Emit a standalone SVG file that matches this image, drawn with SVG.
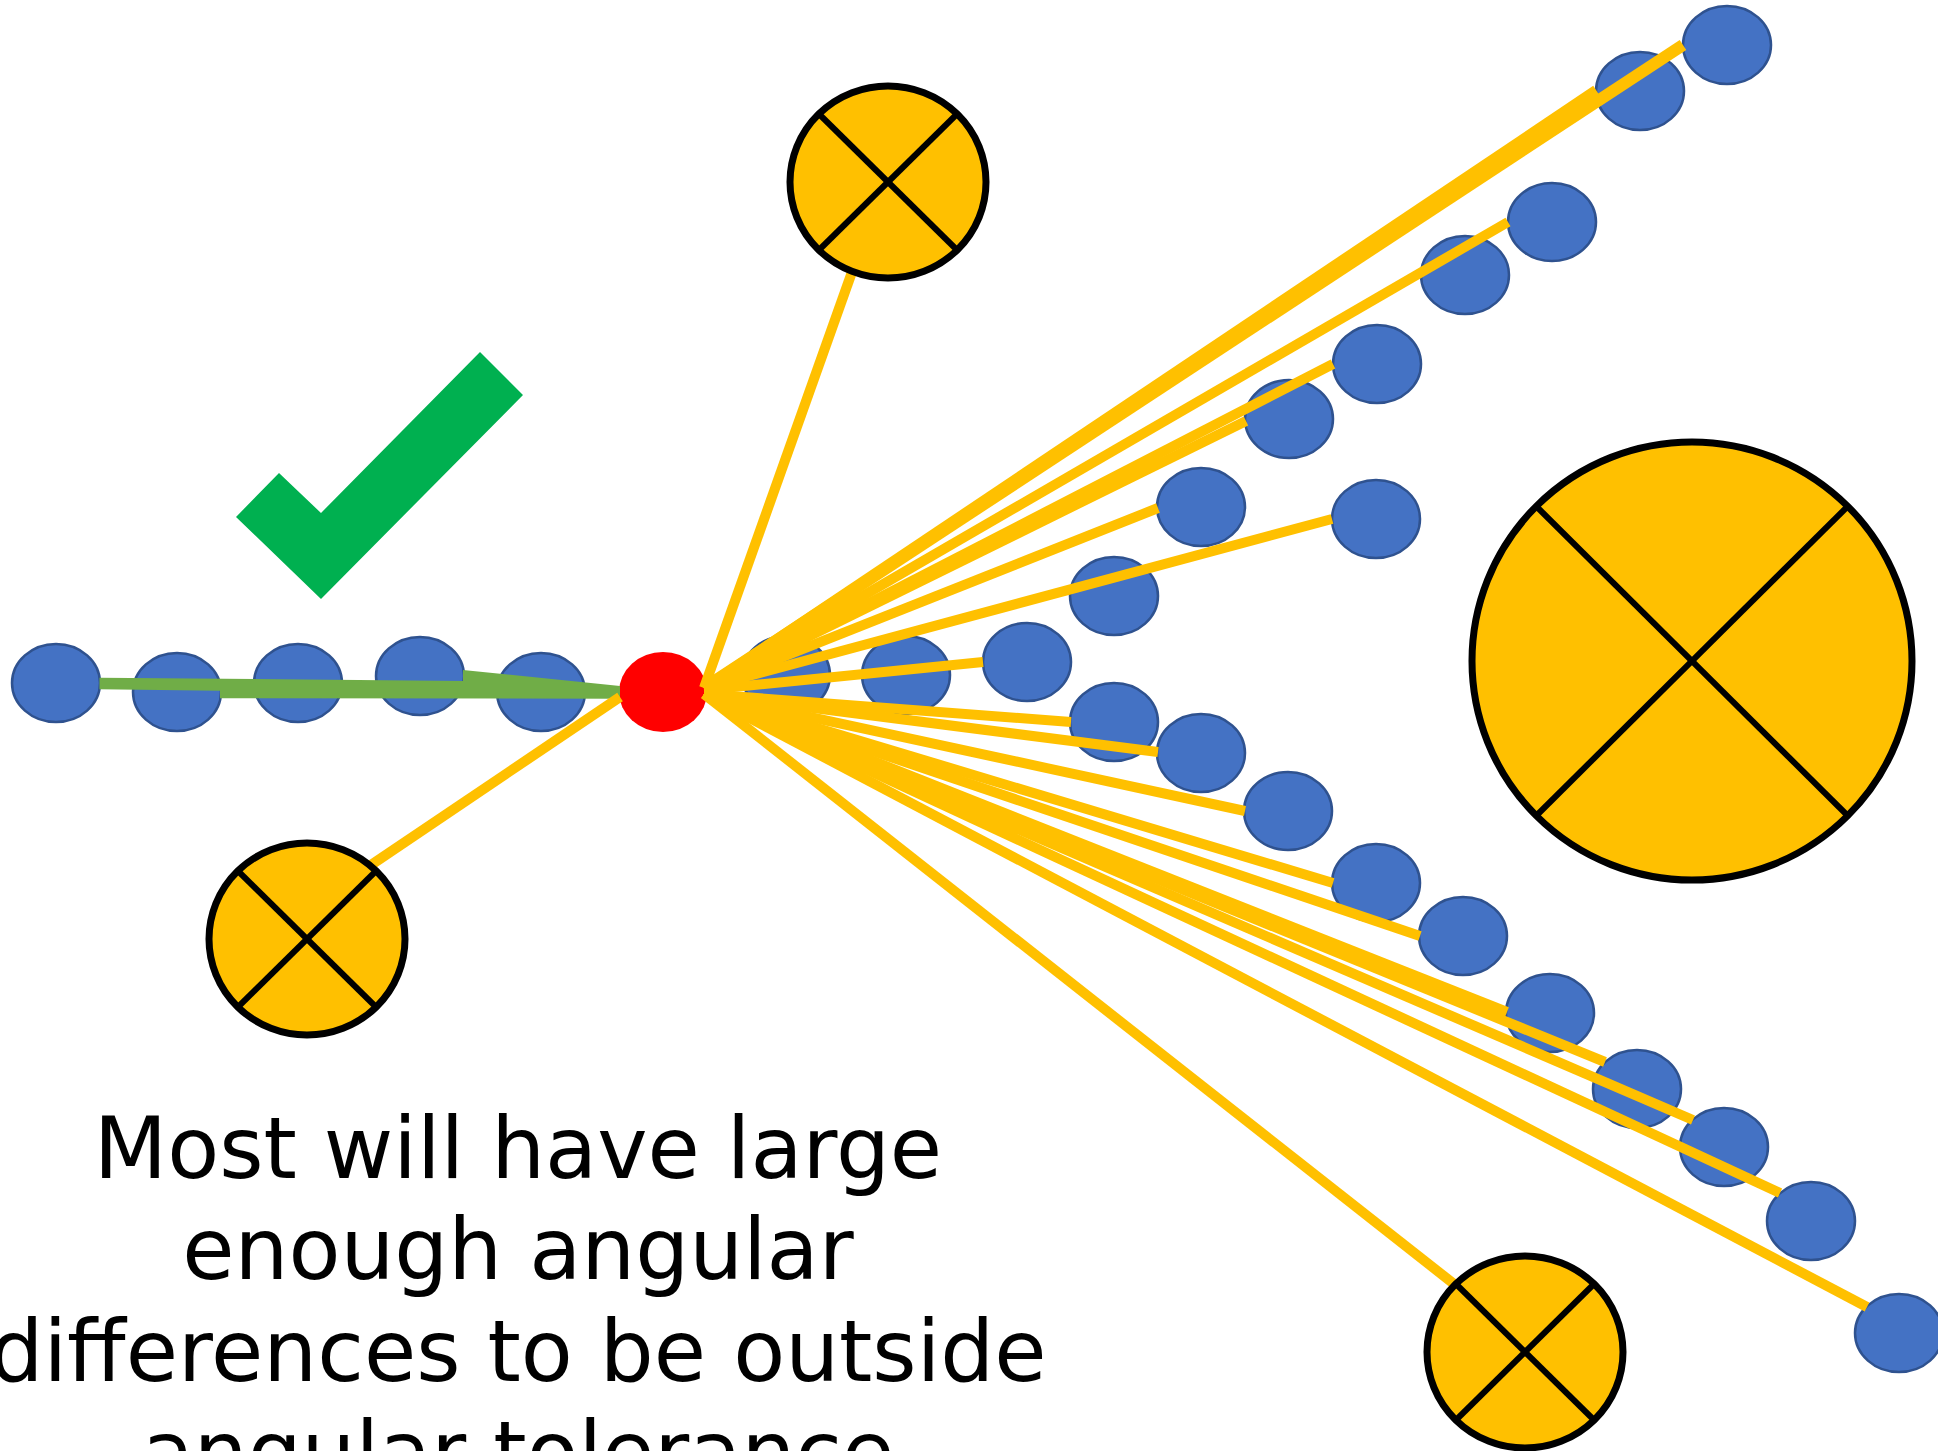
<svg xmlns="http://www.w3.org/2000/svg" width="1938" height="1451" viewBox="0 0 1938 1451">
<style>
.b{fill:#4472C4;stroke:#2F528F;stroke-width:2.5}
.y{stroke:#FFC000;stroke-width:10;fill:none}
.xc{fill:#FFC000;stroke:#000;stroke-width:7}
.xl{stroke:#000;stroke-width:6}
.t{font-family:"DejaVu Sans",Verdana,sans-serif;font-size:85px;fill:#000;text-anchor:middle}
</style>
<rect width="1938" height="1451" fill="#fff"/>
<g id="points">
<ellipse class="b" cx="56" cy="683" rx="44" ry="39"/>
<ellipse class="b" cx="177" cy="692" rx="44" ry="39"/>
<ellipse class="b" cx="298" cy="683" rx="44" ry="39"/>
<ellipse class="b" cx="420" cy="676" rx="44" ry="39"/>
<ellipse class="b" cx="541" cy="692" rx="44" ry="39"/>
<ellipse class="b" cx="786" cy="675" rx="44" ry="39"/>
<ellipse class="b" cx="906" cy="675" rx="44" ry="39"/>
<ellipse class="b" cx="1027" cy="662" rx="44" ry="39"/>
<ellipse class="b" cx="1114" cy="596" rx="44" ry="39"/>
<ellipse class="b" cx="1201" cy="507" rx="44" ry="39"/>
<ellipse class="b" cx="1289" cy="419" rx="44" ry="39"/>
<ellipse class="b" cx="1377" cy="364" rx="44" ry="39"/>
<ellipse class="b" cx="1465" cy="275" rx="44" ry="39"/>
<ellipse class="b" cx="1552" cy="222" rx="44" ry="39"/>
<ellipse class="b" cx="1640" cy="91" rx="44" ry="39"/>
<ellipse class="b" cx="1727" cy="45" rx="44" ry="39"/>
<ellipse class="b" cx="1376" cy="519" rx="44" ry="39"/>
<ellipse class="b" cx="1114" cy="722" rx="44" ry="39"/>
<ellipse class="b" cx="1201" cy="753" rx="44" ry="39"/>
<ellipse class="b" cx="1288" cy="811" rx="44" ry="39"/>
<ellipse class="b" cx="1376" cy="883" rx="44" ry="39"/>
<ellipse class="b" cx="1463" cy="936" rx="44" ry="39"/>
<ellipse class="b" cx="1550" cy="1013" rx="44" ry="39"/>
<ellipse class="b" cx="1637" cy="1089" rx="44" ry="39"/>
<ellipse class="b" cx="1724" cy="1147" rx="44" ry="39"/>
<ellipse class="b" cx="1811" cy="1221" rx="44" ry="39"/>
<ellipse class="b" cx="1899" cy="1333" rx="44" ry="39"/>
</g>
<g id="query">
<ellipse cx="663" cy="692" rx="44" ry="40" fill="#FF0000"/>
</g>
<g id="connectors">
<polygon fill="#70AD47" points="99.5,677.7 463,681 463,670 620,686 620,698.7 220,698.3 220,690.7 99.5,689.3"/>
<line class="y" x1="620" y1="697" x2="371" y2="865"/>
<line class="y" x1="704" y1="688" x2="852" y2="272"/>
<line class="y" x1="704" y1="688" x2="1683" y2="45" style="stroke-width:12"/>
<line class="y" x1="704" y1="688" x2="1596" y2="90"/>
<line class="y" x1="704" y1="688" x2="1508" y2="222"/>
<line class="y" x1="704" y1="688" x2="1333" y2="364"/>
<line class="y" x1="704" y1="688" x2="1246" y2="421"/>
<line class="y" x1="704" y1="688" x2="1158" y2="508"/>
<line class="y" x1="704" y1="688" x2="1332" y2="519"/>
<line class="y" x1="704" y1="690" x2="983" y2="662"/>
<line class="y" x1="704" y1="694" x2="1071" y2="722"/>
<line class="y" x1="704" y1="694" x2="1158" y2="752"/>
<line class="y" x1="704" y1="694" x2="1245" y2="811"/>
<line class="y" x1="704" y1="694" x2="1333" y2="883"/>
<line class="y" x1="704" y1="694" x2="1420" y2="936"/>
<line class="y" x1="704" y1="694" x2="1507" y2="1012"/>
<line class="y" x1="704" y1="694" x2="1605" y2="1062"/>
<line class="y" x1="704" y1="694" x2="1693" y2="1120"/>
<line class="y" x1="704" y1="694" x2="1780" y2="1193"/>
<line class="y" x1="704" y1="694" x2="1867" y2="1307"/>
<line class="y" x1="704" y1="694" x2="1454" y2="1284"/>
</g>
<g id="x-top">
<ellipse class="xc" cx="888" cy="182" rx="98" ry="96"/>
<line class="xl" x1="819" y1="114" x2="957" y2="250"/>
<line class="xl" x1="957" y1="114" x2="819" y2="250"/>
</g>
<g id="x-left">
<ellipse class="xc" cx="307" cy="939" rx="98" ry="96"/>
<line class="xl" x1="238" y1="871" x2="376" y2="1007"/>
<line class="xl" x1="376" y1="871" x2="238" y2="1007"/>
</g>
<g id="x-bottom">
<ellipse class="xc" cx="1525" cy="1352" rx="98" ry="96"/>
<line class="xl" x1="1456" y1="1284" x2="1594" y2="1420"/>
<line class="xl" x1="1594" y1="1284" x2="1456" y2="1420"/>
</g>
<g id="x-big">
<ellipse class="xc" cx="1692" cy="661" rx="220" ry="219"/>
<line class="xl" x1="1536" y1="506" x2="1848" y2="816"/>
<line class="xl" x1="1848" y1="506" x2="1536" y2="816"/>
</g>
<g id="check">
<polygon fill="#00B050" points="236,517 279,473 321,513 480,352 523,395 321,599"/>
</g>
<g id="caption">
<text class="t" x="518" y="1178">Most will have large</text>
<text class="t" x="518" y="1279">enough angular</text>
<text class="t" x="518" y="1381">differences to be outside</text>
<text class="t" x="518" y="1482">angular tolerance</text>
</g>
</svg>
